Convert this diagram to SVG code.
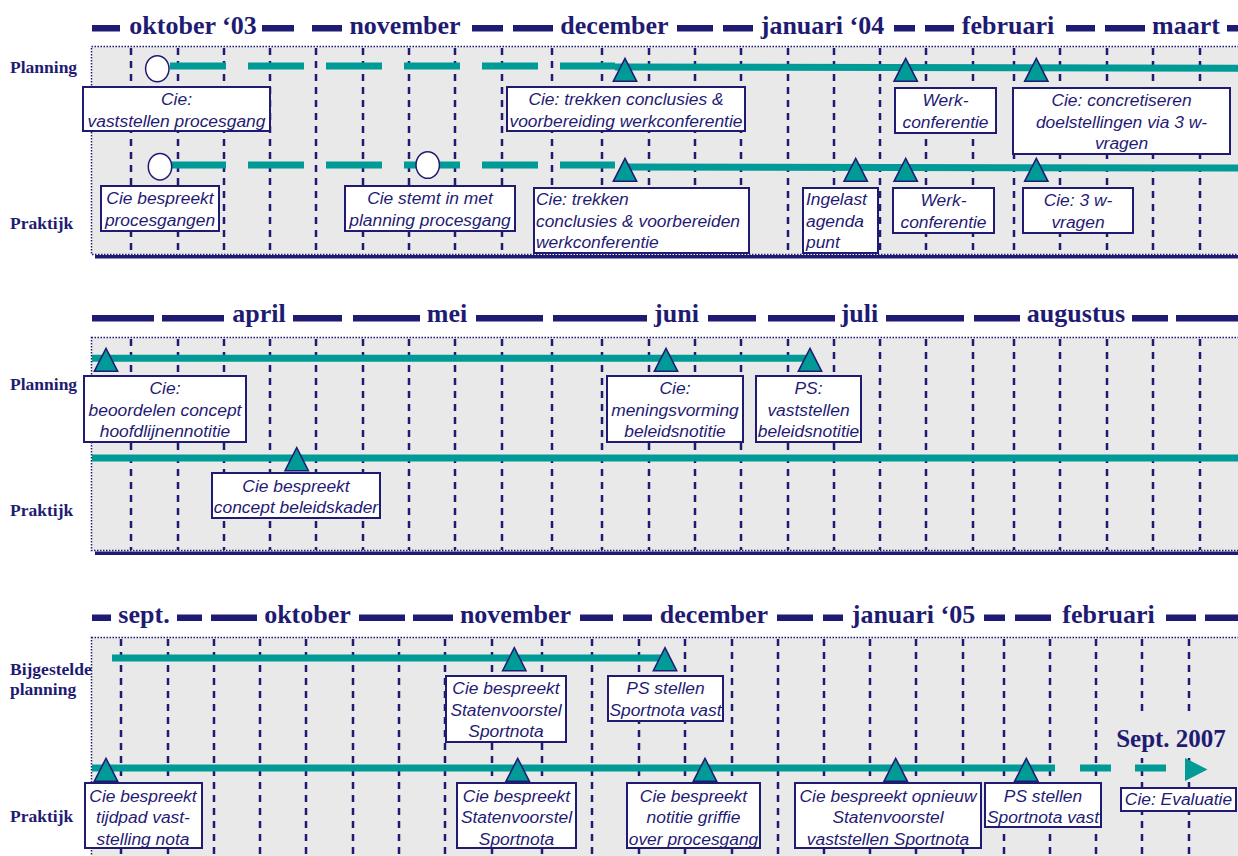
<svg xmlns="http://www.w3.org/2000/svg" xmlns:xlink="http://www.w3.org/1999/xlink" width="1238" height="856" viewBox="0 0 1238 856">
<style>
.ser{font-family:"Liberation Serif","Times New Roman",serif;font-weight:bold;fill:#1f1b73}
.hdr{font-size:26px;text-anchor:middle}
.side{font-size:17.5px}
.hd{fill:#1f1b73}
.panel{fill:#e9e9e9;stroke:#1f1b73;stroke-width:1.5;stroke-dasharray:1.5 1.5}
.vl{fill:none;stroke:#1f1b73;stroke-width:2.5;stroke-dasharray:7 6}
.tl{fill:none;stroke:#009a97;stroke-width:7}
.tri{fill:#009a97;stroke:#1f1b73;stroke-width:1.5;stroke-linejoin:miter}
.circ{fill:#fff;stroke:#1f1b73;stroke-width:1.5}
.box rect{fill:#fff;stroke:#1f1b73;stroke-width:2}
.box text{font-family:"Liberation Sans",Arial,sans-serif;font-style:italic;font-size:17.4px;fill:#1f1b73;text-anchor:middle}
.box.l text{text-anchor:start}
</style>
<defs>
<polygon id="tr" class="tri" points="0,0 11.7,23 -11.7,23"/>
</defs>

<!-- panels -->
<g id="panels">
<rect class="panel" x="91.5" y="46.5" width="1160" height="208"/>
<rect class="hd" x="95" y="255" width="1143" height="3.5"/>
<rect class="panel" x="91.5" y="337.5" width="1160" height="213"/>
<rect class="hd" x="95" y="551.5" width="1143" height="3.5"/>
<rect class="panel" x="91.5" y="637.5" width="1160" height="240"/>
</g>

<g id="gridlines">
<path class="vl" d="M131 48V254M178 48V254M224 48V254M270 48V254M316 48V254M363 48V254M409 48V254M455 48V254M502 48V254M552 48V254M602 48V254M649 48V254M695 48V254M741 48V254M788 48V254M834 48V254M880 48V254M926 48V254M973 48V254M1014 48V254M1060 48V254M1107 48V254M1153 48V254M1200 48V254"/>
<path class="vl" d="M131 339V550M178 339V550M224 339V550M270 339V550M316 339V550M363 339V550M409 339V550M455 339V550M502 339V550M552 339V550M602 339V550M649 339V550M695 339V550M741 339V550M788 339V550M834 339V550M880 339V550M926 339V550M973 339V550M1014 339V550M1060 339V550M1107 339V550M1153 339V550M1200 339V550"/>
<path class="vl" d="M121 639V856M168 639V856M214 639V856M260 639V856M306 639V856M353 639V856M399 639V856M445 639V856M492 639V856M542 639V856M592 639V856M639 639V856M685 639V856M732 639V856M778 639V856M824 639V856M870 639V856M916 639V856M963 639V856M1004 639V856M1050 639V856M1096 639V856M1142 639V856M1189 639V856"/>
<rect x="1110" y="716" width="128" height="42" fill="#e9e9e9"/>
</g>

<!-- headers -->
<g id="header1">
<rect class="hd" x="92" y="25" width="28" height="6.5"/><rect class="hd" x="262" y="25" width="32" height="6.5"/><rect class="hd" x="312" y="25" width="30" height="6.5"/><rect class="hd" x="472" y="25" width="31" height="6.5"/><rect class="hd" x="513" y="25" width="40" height="6.5"/><rect class="hd" x="677" y="25" width="36" height="6.5"/><rect class="hd" x="723" y="25" width="30" height="6.5"/><rect class="hd" x="894" y="25" width="21" height="6.5"/><rect class="hd" x="925" y="25" width="29" height="6.5"/><rect class="hd" x="1066" y="25" width="29" height="6.5"/><rect class="hd" x="1105" y="25" width="40" height="6.5"/><rect class="hd" x="1227" y="25" width="11" height="6.5"/>
<text class="ser hdr" x="193" y="34">oktober ‘03</text>
<text class="ser hdr" x="405" y="34">november</text>
<text class="ser hdr" x="614.5" y="34">december</text>
<text class="ser hdr" x="822.5" y="34">januari ‘04</text>
<text class="ser hdr" x="1008" y="34">februari</text>
<text class="ser hdr" x="1186" y="34">maart</text>
</g>
<g id="header2">
<rect class="hd" x="92" y="315" width="62" height="6.5"/><rect class="hd" x="162" y="315" width="62" height="6.5"/><rect class="hd" x="293" y="315" width="49" height="6.5"/><rect class="hd" x="353" y="315" width="67" height="6.5"/><rect class="hd" x="476" y="315" width="67" height="6.5"/><rect class="hd" x="553" y="315" width="94" height="6.5"/><rect class="hd" x="708" y="315" width="48" height="6.5"/><rect class="hd" x="768" y="315" width="67" height="6.5"/><rect class="hd" x="886" y="315" width="78" height="6.5"/><rect class="hd" x="974" y="315" width="46" height="6.5"/><rect class="hd" x="1132" y="315" width="36" height="6.5"/><rect class="hd" x="1176" y="315" width="62" height="6.5"/>
<text class="ser hdr" x="259" y="322">april</text>
<text class="ser hdr" x="447" y="322">mei</text>
<text class="ser hdr" x="676.5" y="322">juni</text>
<text class="ser hdr" x="859.5" y="322">juli</text>
<text class="ser hdr" x="1076" y="322">augustus</text>
</g>
<g id="header3">
<rect class="hd" x="92" y="614.5" width="19" height="6.5"/><rect class="hd" x="177" y="614.5" width="25" height="6.5"/><rect class="hd" x="211" y="614.5" width="46" height="6.5"/><rect class="hd" x="359" y="614.5" width="46" height="6.5"/><rect class="hd" x="413" y="614.5" width="40" height="6.5"/><rect class="hd" x="580" y="614.5" width="33" height="6.5"/><rect class="hd" x="623" y="614.5" width="29" height="6.5"/><rect class="hd" x="777" y="614.5" width="36" height="6.5"/><rect class="hd" x="823" y="614.5" width="20" height="6.5"/><rect class="hd" x="984" y="614.5" width="21" height="6.5"/><rect class="hd" x="1015" y="614.5" width="36" height="6.5"/><rect class="hd" x="1166" y="614.5" width="30" height="6.5"/><rect class="hd" x="1205" y="614.5" width="33" height="6.5"/>
<text class="ser hdr" x="144" y="623">sept.</text>
<text class="ser hdr" x="307.5" y="623">oktober</text>
<text class="ser hdr" x="515.5" y="623">november</text>
<text class="ser hdr" x="714" y="623">december</text>
<text class="ser hdr" x="913.5" y="623">januari ‘05</text>
<text class="ser hdr" x="1108.5" y="623">februari</text>
</g>

<!-- row labels -->
<g id="labels">
<text class="ser side" x="10" y="73.3">Planning</text>
<text class="ser side" x="10" y="229.3">Praktijk</text>
<text class="ser side" x="10" y="390">Planning</text>
<text class="ser side" x="10" y="516">Praktijk</text>
<text class="ser side" x="10" y="675">Bijgestelde</text>
<text class="ser side" x="10" y="695">planning</text>
<text class="ser side" x="10" y="821.7">Praktijk</text>
<text class="ser" x="1171" y="747" font-size="25" text-anchor="middle">Sept. 2007</text>
</g>

<!-- connectors (time lines) -->
<g id="connectors">
<line class="tl" x1="170" y1="66" x2="615" y2="66" stroke-dasharray="56 22"/>
<line class="tl" x1="615" y1="67" x2="1238" y2="68.3"/>
<line class="tl" x1="170" y1="165" x2="615" y2="165" stroke-dasharray="56 22"/>
<line class="tl" x1="625" y1="167" x2="1238" y2="168"/>
<line class="tl" x1="92" y1="358.3" x2="810" y2="358.3"/>
<line class="tl" x1="92" y1="458" x2="1238" y2="458"/>
<line class="tl" x1="112" y1="658" x2="665" y2="658"/>
<line class="tl" x1="92" y1="768" x2="1055" y2="768"/>
<line class="tl" x1="1080" y1="768" x2="1167" y2="768" stroke-dasharray="31 24"/>
<polygon points="1185,758 1207.5,769.5 1185,781" fill="#009a97"/>
</g>

<!-- milestones -->
<g id="m-p1-start"><ellipse class="circ" cx="157.3" cy="68.7" rx="11.7" ry="13"/></g>
<g id="m-k1-start"><ellipse class="circ" cx="160" cy="166.7" rx="11.7" ry="13.3"/></g>
<g id="m-k1-nov"><ellipse class="circ" cx="427.7" cy="165" rx="11.7" ry="13.3"/></g>
<g id="m-p1-tri"><use xlink:href="#tr" x="625" y="58.3"/><use xlink:href="#tr" x="905.7" y="58.3"/><use xlink:href="#tr" x="1036.3" y="58.3"/></g>
<g id="m-k1-tri"><use xlink:href="#tr" x="625" y="158.3"/><use xlink:href="#tr" x="855.7" y="158.3"/><use xlink:href="#tr" x="905.7" y="158.3"/><use xlink:href="#tr" x="1036.3" y="158.3"/></g>
<g id="m-p2-tri"><use xlink:href="#tr" x="106" y="348.3"/><use xlink:href="#tr" x="666" y="348.3"/><use xlink:href="#tr" x="810" y="348.3"/></g>
<g id="m-k2-tri"><use xlink:href="#tr" x="296.7" y="447.7"/></g>
<g id="m-b3-tri"><use xlink:href="#tr" x="514.3" y="647.7"/><use xlink:href="#tr" x="665" y="647.7"/></g>
<g id="m-k3-tri"><use xlink:href="#tr" x="106" y="758.3"/><use xlink:href="#tr" x="517.7" y="758.3"/><use xlink:href="#tr" x="705" y="758.3"/><use xlink:href="#tr" x="895.7" y="758.3"/><use xlink:href="#tr" x="1026.3" y="758.3"/></g>

<!-- boxes panel 1 -->
<g id="b1" class="box"><rect x="83" y="87" width="187" height="44"/><text x="176.5" y="105">Cie:</text><text x="176.5" y="126.7">vaststellen procesgang</text></g>
<g id="b2" class="box"><rect x="101" y="186" width="118" height="45"/><text x="160" y="204">Cie bespreekt</text><text x="160" y="225.7">procesgangen</text></g>
<g id="b3" class="box"><rect x="345" y="186" width="170" height="45"/><text x="430" y="204">Cie stemt in met</text><text x="430" y="225.7">planning procesgang</text></g>
<g id="b4" class="box"><rect x="507" y="87" width="238" height="44"/><text x="626" y="105">Cie: trekken conclusies &amp;</text><text x="626" y="126.7">voorbereiding werkconferentie</text></g>
<g id="b5" class="box l"><rect x="534" y="188" width="215" height="65"/><text x="536" y="205">Cie: trekken</text><text x="536" y="226.7">conclusies &amp; voorbereiden</text><text x="536" y="248.3">werkconferentie</text></g>
<g id="b6" class="box l"><rect x="803" y="188" width="75" height="65"/><text x="806" y="205">Ingelast</text><text x="806" y="226.7">agenda</text><text x="806" y="248.3">punt</text></g>
<g id="b7" class="box"><rect x="895" y="88" width="101" height="45"/><text x="945.5" y="106">Werk-</text><text x="945.5" y="127.7">conferentie</text></g>
<g id="b8" class="box"><rect x="893" y="188" width="101" height="45"/><text x="943.5" y="206">Werk-</text><text x="943.5" y="227.7">conferentie</text></g>
<g id="b9" class="box"><rect x="1013" y="88" width="217" height="66"/><text x="1121.5" y="106">Cie: concretiseren</text><text x="1121.5" y="127.7">doelstellingen via 3 w-</text><text x="1121.5" y="149.3">vragen</text></g>
<g id="b10" class="box"><rect x="1023" y="188" width="110" height="45"/><text x="1078" y="206">Cie: 3 w-</text><text x="1078" y="227.7">vragen</text></g>

<!-- boxes panel 2 -->
<g id="b11" class="box"><rect x="84" y="376" width="162" height="66"/><text x="165" y="394">Cie:</text><text x="165" y="415.7">beoordelen concept</text><text x="165" y="437">hoofdlijnennotitie</text></g>
<g id="b12" class="box"><rect x="212" y="473" width="168" height="45"/><text x="296" y="491.7">Cie bespreekt</text><text x="296" y="513">concept beleidskader</text></g>
<g id="b13" class="box"><rect x="607" y="376" width="136" height="66"/><text x="675" y="394">Cie:</text><text x="675" y="415.7">meningsvorming</text><text x="675" y="437">beleidsnotitie</text></g>
<g id="b14" class="box"><rect x="756" y="376" width="105" height="66"/><text x="808.5" y="394">PS:</text><text x="808.5" y="415.7">vaststellen</text><text x="808.5" y="437">beleidsnotitie</text></g>

<!-- boxes panel 3 -->
<g id="b15" class="box"><rect x="85" y="783" width="117" height="65"/><text x="143" y="801.7">Cie bespreekt</text><text x="143" y="823.3">tijdpad vast-</text><text x="143" y="845">stelling nota</text></g>
<g id="b16" class="box"><rect x="446" y="676" width="120" height="66"/><text x="506" y="694">Cie bespreekt</text><text x="506" y="715.7">Statenvoorstel</text><text x="506" y="737">Sportnota</text></g>
<g id="b17" class="box"><rect x="608" y="676" width="115" height="45"/><text x="665.5" y="694">PS stellen</text><text x="665.5" y="715.7">Sportnota vast</text></g>
<g id="b18" class="box"><rect x="457" y="783" width="119" height="65"/><text x="516.5" y="801.7">Cie bespreekt</text><text x="516.5" y="823.3">Statenvoorstel</text><text x="516.5" y="845">Sportnota</text></g>
<g id="b19" class="box"><rect x="627" y="783" width="133" height="65"/><text x="693.5" y="801.7">Cie bespreekt</text><text x="693.5" y="823.3">notitie griffie</text><text x="693.5" y="845">over procesgang</text></g>
<g id="b20" class="box"><rect x="795" y="783" width="186" height="65"/><text x="888" y="801.7">Cie bespreekt opnieuw</text><text x="888" y="823.3">Statenvoorstel</text><text x="888" y="845">vaststellen Sportnota</text></g>
<g id="b21" class="box"><rect x="985" y="783" width="116" height="44"/><text x="1043" y="801.7">PS stellen</text><text x="1043" y="823.3">Sportnota vast</text></g>
<g id="b22" class="box"><rect x="1121" y="788" width="115" height="23"/><text x="1178.5" y="805">Cie: Evaluatie</text></g>
</svg>
